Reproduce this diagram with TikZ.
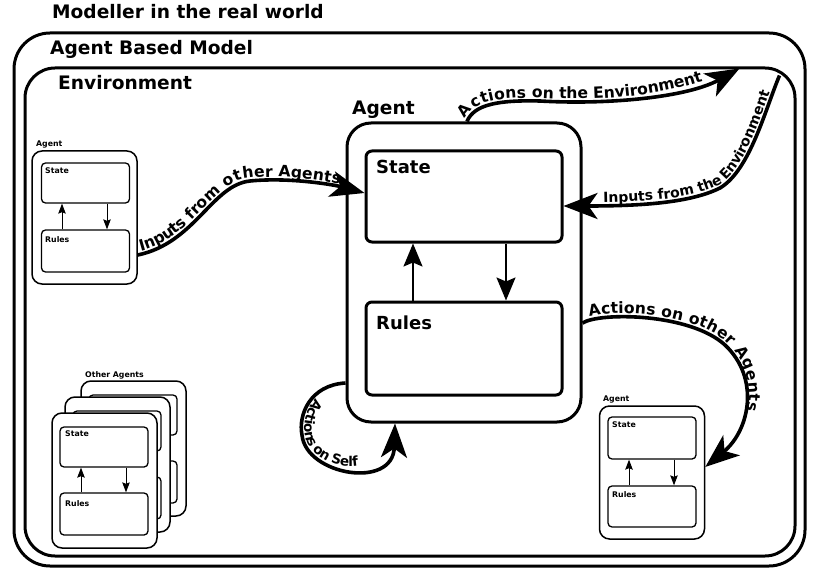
\documentclass[tikz,border=0pt]{standalone}
\usepackage{fontspec}
\setmainfont{DejaVu Sans}
\usetikzlibrary{arrows.meta,decorations.text}
\newcommand\connfont{\fontsize{15.6}{15.6}\selectfont\bfseries}
\newcommand\envfont{\fontsize{14}{14}\selectfont\bfseries}
\newcommand\selffont{\fontsize{13.5}{13.5}\selectfont\bfseries}
\tikzset{
  outerframe/.style={draw, line width=3pt, rounded corners=#1, inner sep=0pt},
  agentbox/.style={draw, line width=3pt, rounded corners=24pt, inner sep=0pt, fill=white},
  partbox/.style={draw, line width=3pt, rounded corners=6pt, inner sep=0pt, fill=white, minimum width=196pt},
  sagent/.style={draw, line width=1.5pt, rounded corners=10pt, inner sep=0pt, fill=white, minimum width=105pt, minimum height=133pt},
  spart/.style={draw, line width=1.3pt, rounded corners=4pt, inner sep=0pt, fill=white, minimum width=88pt},
  biglbl/.style={font=\fontsize{18.6}{18.6}\selectfont\bfseries, inner sep=0pt, anchor=base west},
  partlbl/.style={font=\fontsize{18}{18}\selectfont\bfseries, inner sep=0pt, anchor=base west},
  smalllbl/.style={font=\fontsize{7.8}{7.8}\selectfont\bfseries, inner sep=0pt, anchor=base west},
  conn/.style={line width=3.6pt, -{Stealth[length=34pt,width=26pt,inset=9pt]}},
  innerarrow/.style={line width=2pt, -{Stealth[length=23pt,width=19pt,inset=4pt]}},
  sinnerarrow/.style={line width=1pt, -{Stealth[length=10pt,width=7.5pt,inset=1.5pt]}},
}
\begin{document}
\begin{tikzpicture}[x=1pt,y=-1pt]
\useasboundingbox (0,0) rectangle (819,572);

% frames
\node[outerframe=36pt, minimum width=791pt, minimum height=533pt] (abm) at (409.5,299.5) {};
\node[outerframe=30pt, minimum width=770pt, minimum height=488pt] (env) at (410,312) {};
\node[biglbl] (ttl) at (52,19) {Modeller in the real world};
\node[biglbl] (abml) at (50,55) {Agent Based Model};
\node[biglbl] (envl) at (58,90) {Environment};

% main agent
\node[agentbox, minimum width=234pt, minimum height=299pt] (agent) at (464,272.5) {};
\node[partbox, minimum height=91pt] (state) at (464,196.5) {};
\node[partbox, minimum height=93pt] (rules) at (464,348.5) {};
\node[biglbl] (agentl) at (352,115) {Agent};
\node[partlbl] (statel) at (376,174) {State};
\node[partlbl] (rulesl) at (376,329) {Rules};
\draw[innerarrow] ([xshift=-51pt]rules.north) -- ([xshift=-51pt]state.south);
\draw[innerarrow] ([xshift=42pt]state.south) -- ([xshift=42pt]rules.north);

% small agent top-left
\node[sagent] (sa) at (84.5,217.5) {};
\node[spart, minimum height=40pt] (sas) at (85.5,183) {};
\node[spart, minimum height=42pt] (sar) at (85.5,251) {};
\node[smalllbl] (sal) at (36,147) {Agent};
\node[smalllbl] (sasl) at (45,174) {State};
\node[smalllbl] (sarl) at (45,243) {Rules};
\draw[sinnerarrow] ([xshift=-23.5pt]sar.north) -- ([xshift=-23.5pt]sas.south);
\draw[sinnerarrow] ([xshift=21.5pt]sas.south) -- ([xshift=21.5pt]sar.north);

% small agent right
\node[sagent] (sb) at (652,472.5) {};
\node[spart, minimum height=42pt] (sbs) at (652,438) {};
\node[spart, minimum height=41pt] (sbr) at (652,506.5) {};
\node[smalllbl] (sbl) at (603,401) {Agent};
\node[smalllbl] (sbsl) at (612,427) {State};
\node[smalllbl] (sbrl) at (612,497) {Rules};
\draw[sinnerarrow] ([xshift=-23pt]sbr.north) -- ([xshift=-23pt]sbs.south);
\draw[sinnerarrow] ([xshift=22pt]sbs.south) -- ([xshift=22pt]sbr.north);

% other agents stack
\node[smalllbl] (othl) at (85,377) {Other Agents};
\begin{scope}[shift={(29,-32)}]
  \node[sagent, minimum height=135pt] (c3) at (104.5,480.5) {};
  \node[spart, minimum height=40pt] (c3s) at (104,447) {};
  \node[spart, minimum height=42pt] (c3r) at (104,514) {};
\end{scope}
\begin{scope}[shift={(13,-16)}]
  \node[sagent, minimum height=135pt] (c2) at (104.5,480.5) {};
  \node[spart, minimum height=40pt] (c2s) at (104,447) {};
  \node[spart, minimum height=42pt] (c2r) at (104,514) {};
\end{scope}
\node[sagent, minimum height=135pt] (c1) at (104.5,480.5) {};
\node[spart, minimum height=40pt] (c1s) at (104,447) {};
\node[spart, minimum height=42pt] (c1r) at (104,514) {};
\node[smalllbl] (c1sl) at (65,436) {State};
\node[smalllbl] (c1rl) at (65,506) {Rules};
\draw[sinnerarrow] ([xshift=-23pt]c1r.north) -- ([xshift=-23pt]c1s.south);
\draw[sinnerarrow] ([xshift=22pt]c1s.south) -- ([xshift=22pt]c1r.north);

% Inputs from other Agents
\draw[conn] ([yshift=-37.5pt]sa.east) .. controls (195,243) and (212,185) .. (250,181) .. controls (290,177) and (335,185) .. ([yshift=3.5pt]state.west);
\path[decorate, decoration={text along path, text={|\connfont|Inputs from other Agents}, text align={left indent=4pt}, raise=3pt}]
  ([yshift=-37.5pt]sa.east) .. controls (195,243) and (212,185) .. (250,181) .. controls (290,177) and (335,185) .. ([yshift=3.5pt]state.west);

% Actions on the Environment
\draw[conn] ([xshift=3pt]agent.north) .. controls (474,104) and (500,100) .. (540,101) .. controls (610,105) and (688,97) .. ([xshift=-57pt,yshift=-2pt]env.north east);
\path[decorate, decoration={text along path, text={|\connfont|Actions on the Environment}, text align={left indent=1pt}, raise=3pt}]
  ([xshift=3pt]agent.north) .. controls (474,104) and (500,100) .. (540,101) .. controls (610,105) and (688,97) .. ([xshift=-57pt,yshift=-2pt]env.north east);

% Inputs from the Environment
\draw[conn] ([xshift=-17pt,yshift=-9pt]env.north east) .. controls (765,110) and (750,170) .. (720,188) .. controls (690,203) and (640,206) .. ([yshift=-9.5pt]state.east);
\path[decorate, decoration={text along path, text={|\envfont|Inputs from the Environment}, text align={left indent=40pt}, raise=3pt}]
  ([yshift=-9.5pt]state.east) .. controls (640,206) and (690,203) .. (720,188) .. controls (750,170) and (765,110) .. ([xshift=-17pt,yshift=-9pt]env.north east);

% Actions on other Agents
\draw[conn] ([yshift=-50.5pt]agent.east) .. controls (600,312) and (690,313) .. (725,345) .. controls (760,378) and (750,430) .. ([yshift=5.5pt]sb.east);
\path[decorate, decoration={text along path, text={|\connfont|Actions on other Agents}, text align={left indent=8pt}, raise=3pt}]
  ([yshift=-50.5pt]agent.east) .. controls (600,312) and (690,313) .. (725,345) .. controls (760,378) and (750,430) .. ([yshift=5.5pt]sb.east);

% Actions on Self
\draw[conn] ([yshift=-110.5pt]agent.west) .. controls (310,385) and (298,415) .. (302,435) .. controls (306,475) and (393,490) .. ([xshift=-69pt]agent.south);
\path[decorate, decoration={text along path, text={|\selffont|Actions on Self}, text align={left indent=36pt}, raise=3pt}]
  ([yshift=-110.5pt]agent.west) .. controls (310,385) and (298,415) .. (302,435) .. controls (306,475) and (393,490) .. ([xshift=-69pt]agent.south);

\end{tikzpicture}
\end{document}
